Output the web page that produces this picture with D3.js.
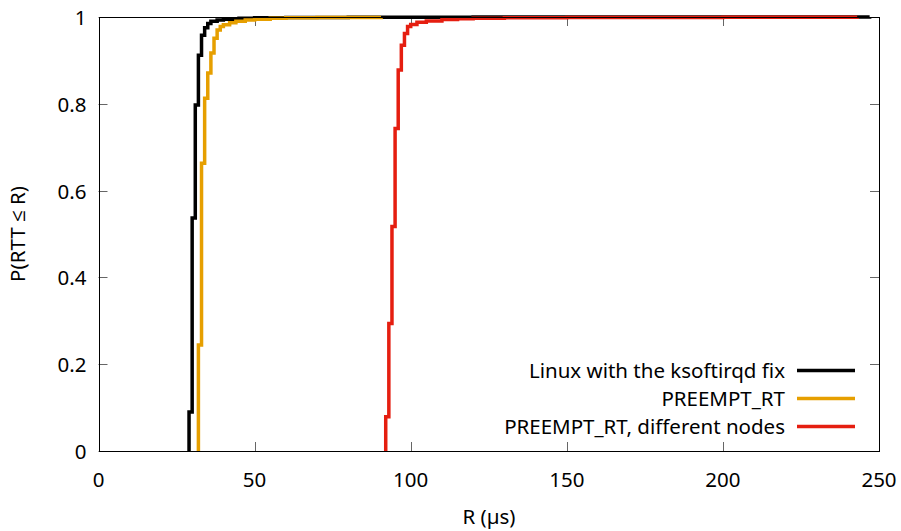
<!DOCTYPE html>
<html>
<head>
<meta charset="utf-8">
<script src="https://cdn.jsdelivr.net/npm/d3@7"></script>
<style>
  body { margin: 0; background: #fff; }
  svg text { font-family: "Noto Sans", "Open Sans", sans-serif; font-size: 20.5px; fill: #000; }
</style>
</head>
<body>
<svg id="chart"></svg>
<script>
// CDF steps: R (µs) and P(RTT <= R)
const ksoftR = [29, 29, 30, 31, 32, 33, 34, 35, 36, 38, 40, 45, 50, 60, 80, 120, 247];
const ksoftP = [0, 0.09, 0.537, 0.797, 0.912, 0.958, 0.975, 0.985, 0.99, 0.993, 0.995, 0.997, 0.998, 0.999, 0.9995, 0.9998, 1];

const rtR = [32, 32, 33, 34, 35, 36, 37, 38, 39, 40, 42, 44, 47, 50, 55, 60, 70, 90.5];
const rtP = [0, 0.244, 0.663, 0.813, 0.871, 0.917, 0.951, 0.97, 0.978, 0.982, 0.987, 0.99, 0.993, 0.995, 0.997, 0.998, 0.999, 1];

const nodesR = [92, 92, 93, 94, 95, 96, 97, 98, 99, 100, 102, 105, 110, 115, 120, 130, 150, 200, 243];
const nodesP = [0, 0.079, 0.294, 0.517, 0.743, 0.878, 0.935, 0.962, 0.978, 0.983, 0.988, 0.991, 0.994, 0.996, 0.997, 0.998, 0.999, 0.9995, 1];

const seriesNames = ["Linux with the ksoftirqd fix", "PREEMPT_RT", "PREEMPT_RT, different nodes"];
const seriesColors = ["#000000", "#e69f00", "#e51e10"];
const xTicks = [0, 50, 100, 150, 200, 250];
const yTicks = [0, 0.2, 0.4, 0.6, 0.8, 1];

const width = 901, height = 531;
const plotLeft = 98.5, plotRight = 879, plotTop = 17, plotBottom = 451;

const series = [
  ksoftR.map((r, i) => [r, ksoftP[i]]),
  rtR.map((r, i) => [r, rtP[i]]),
  nodesR.map((r, i) => [r, nodesP[i]])
];

const x = d3.scaleLinear().domain([0, 250]).range([plotLeft, plotRight]);
const y = d3.scaleLinear().domain([0, 1]).range([plotBottom, plotTop]);

const svg = d3.select("#chart").attr("width", width).attr("height", height);

// ticks on all four sides, pointing inward
const tickLen = 9;
const ticks = svg.append("g").attr("stroke", "#666").attr("stroke-width", 1);
xTicks.forEach(t => {
  const px = Math.round(x(t)) + 0.5;
  ticks.append("line").attr("x1", px).attr("x2", px).attr("y1", plotBottom).attr("y2", plotBottom - tickLen);
  ticks.append("line").attr("x1", px).attr("x2", px).attr("y1", plotTop).attr("y2", plotTop + tickLen);
});
yTicks.forEach(t => {
  const py = Math.round(y(t)) + 0.5;
  ticks.append("line").attr("x1", plotLeft).attr("x2", plotLeft + tickLen).attr("y1", py).attr("y2", py);
  ticks.append("line").attr("x1", plotRight).attr("x2", plotRight - tickLen).attr("y1", py).attr("y2", py);
});

// tick labels
svg.append("g").selectAll("text").data(xTicks).join("text")
  .attr("x", d => x(d)).attr("y", plotBottom + 36)
  .attr("text-anchor", "middle")
  .text(d => d);
svg.append("g").selectAll("text").data(yTicks).join("text")
  .attr("x", plotLeft - 12).attr("y", d => y(d) + 8)
  .attr("text-anchor", "end")
  .text(d => d);

// axis titles
svg.append("text").attr("x", 489).attr("y", 524).attr("text-anchor", "middle").text("R (µs)");
svg.append("text")
  .attr("transform", `translate(25, ${(plotTop + plotBottom) / 2}) rotate(-90)`)
  .attr("text-anchor", "middle")
  .text("P(RTT ≤ R)");

// curves
const line = d3.line().x(d => x(d[0])).y(d => y(d[1])).curve(d3.curveStepAfter);
svg.append("g").selectAll("path").data(series).join("path")
  .attr("d", line)
  .attr("fill", "none")
  .attr("stroke", (d, i) => seriesColors[i])
  .attr("stroke-width", 3.5)
  .attr("stroke-linejoin", "miter");

// border
svg.append("rect")
  .attr("x", Math.round(plotLeft) + 0.5).attr("y", plotTop + 0.5)
  .attr("width", Math.round(plotRight) - Math.round(plotLeft)).attr("height", plotBottom - plotTop)
  .attr("fill", "none").attr("stroke", "#000").attr("stroke-width", 1);

// legend
const legend = svg.append("g");
seriesNames.forEach((name, i) => {
  const ly = 370.5 + i * 28;
  legend.append("text").attr("x", 785).attr("y", ly + 7).attr("text-anchor", "end").text(name);
  legend.append("line").attr("x1", 797).attr("x2", 855).attr("y1", ly).attr("y2", ly)
    .attr("stroke", seriesColors[i]).attr("stroke-width", 3.5);
});
</script>
</body>
</html>
